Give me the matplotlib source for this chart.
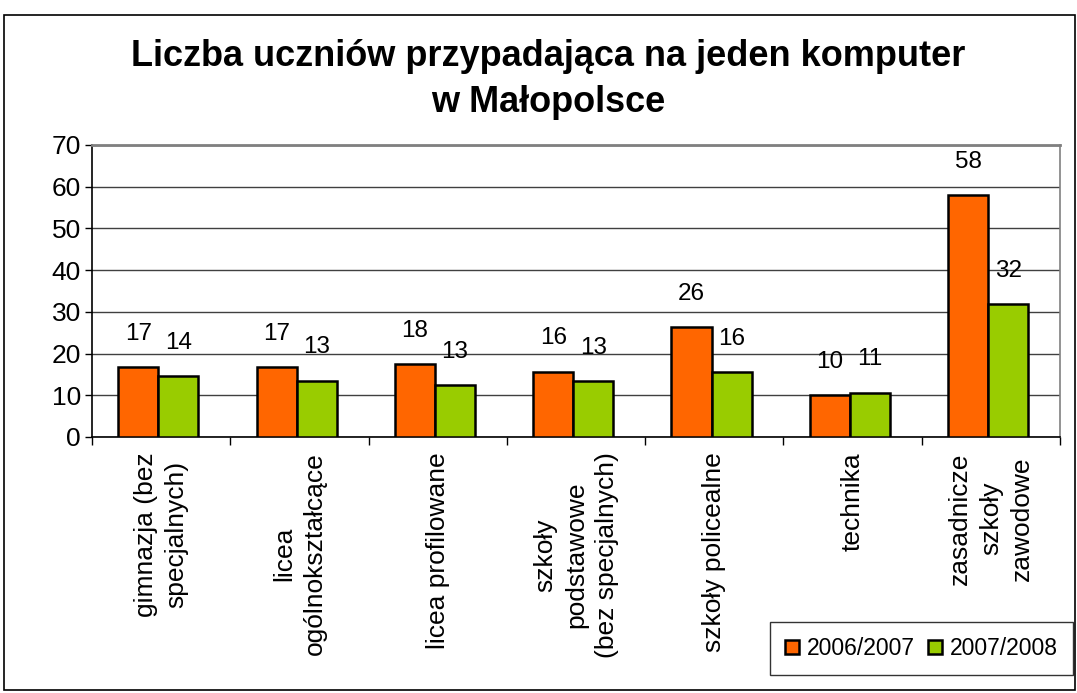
import numpy as np
import matplotlib
matplotlib.use("Agg")
import matplotlib.pyplot as plt
from matplotlib.patches import Rectangle

plt.rcParams["font.family"] = ["Liberation Sans", "DejaVu Sans"]

# Data
categories = [
    "gimnazja (bez\nspecjalnych)",
    "licea\nogólnokształcące",
    "licea profilowane",
    "szkoły\npodstawowe\n(bez specjalnych)",
    "szkoły policealne",
    "technika",
    "zasadnicze\nszkoły\nzawodowe",
]
series_names = ["2006/2007", "2007/2008"]
vals_2006 = [16.8, 16.8, 17.5, 15.7, 26.3, 10.0, 57.9]
vals_2007 = [14.6, 13.5, 12.5, 13.4, 15.6, 10.6, 31.9]
labels_2006 = ["17", "17", "18", "16", "26", "10", "58"]
labels_2007 = ["14", "13", "13", "13", "16", "11", "32"]

ORANGE = "#FF6600"
GREEN = "#99CC00"

W, H = 1077, 693
fig = plt.figure(figsize=(W / 100, H / 100), dpi=100)

# outer chart border
fig.patches.append(Rectangle((4 / W, 1 - 690 / H), 1071 / W, 675 / H,
                             transform=fig.transFigure, fill=False,
                             edgecolor="black", linewidth=1.2))

ax = fig.add_axes([92 / W, 1 - 437 / H, (1060 - 92) / W, (437 - 145) / H])

x = np.arange(len(categories))
bw = 0.29
b1 = ax.bar(x - bw / 2 - 0.02, vals_2006, bw, color=ORANGE, edgecolor="black",
            linewidth=1.8, label=series_names[0], zorder=3)
b2 = ax.bar(x + bw / 2 - 0.02, vals_2007, bw, color=GREEN, edgecolor="black",
            linewidth=1.8, label=series_names[1], zorder=3)

for bars, labs in [(b1, labels_2006), (b2, labels_2007)]:
    for rect, lab in zip(bars, labs):
        ax.annotate(lab, (rect.get_x() + rect.get_width() / 2, rect.get_height()),
                    xytext=(0, 24), textcoords="offset points",
                    ha="center", va="center", fontsize=17.5)

ax.set_ylim(0, 70)
ax.set_xlim(-0.5, len(categories) - 0.5)
ax.set_yticks(range(0, 71, 10))
ax.tick_params(axis="y", labelsize=19, length=5, width=1, direction="out", pad=3)
ax.yaxis.grid(True, color="#404040", linewidth=1.0, zorder=0)
ax.set_axisbelow(True)

ax.set_xticks(x)
ax.set_xticklabels(categories, rotation=90, fontsize=19, ha="center",
                   va="top", multialignment="center", linespacing=1.35)
ax.tick_params(axis="x", which="major", length=0, pad=11)
ax.set_xticks(np.arange(-0.5, len(categories), 1.0), minor=True)
ax.tick_params(axis="x", which="minor", length=6, width=1, direction="out")

ax.spines["left"].set_color("black")
ax.spines["bottom"].set_color("black")
ax.spines["top"].set_color("#808080")
ax.spines["right"].set_color("#808080")
for s in ax.spines.values():
    s.set_linewidth(1.2)
ax.spines["top"].set_linewidth(2)

fig.text(548 / W, 1 - 57 / H, "Liczba uczniów przypadająca na jeden komputer",
         ha="center", va="center", fontsize=26, fontweight="bold")
fig.text(548 / W, 1 - 102 / H, "w Małopolsce",
         ha="center", va="center", fontsize=26, fontweight="bold")

leg = fig.legend(handles=[b1, b2], labels=series_names, ncol=2,
                 loc="lower right", bbox_to_anchor=(1073 / W, 1 - 675 / H),
                 fontsize=16.5, frameon=True, fancybox=False, handlelength=0.6,
                 handleheight=0.6, handletextpad=0.35, columnspacing=0.6,
                 borderpad=0.65, borderaxespad=0)
leg.get_frame().set_edgecolor("black")
leg.get_frame().set_linewidth(1.0)

fig.savefig("out.png", dpi=100)
